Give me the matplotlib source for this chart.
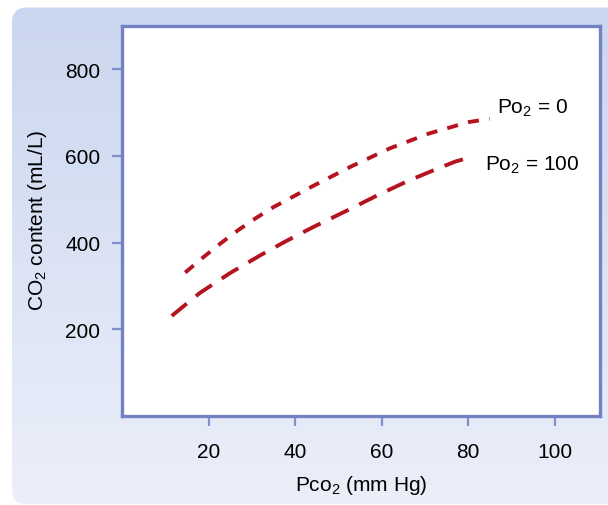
import numpy as np
import matplotlib
matplotlib.use("Agg")
from matplotlib import pyplot as plt
from matplotlib.colors import LinearSegmentedColormap
from matplotlib.patches import FancyBboxPatch

# CO2 dissociation curves
pco2_o2_0 = [14.6, 19, 23, 27, 31, 35, 44, 53, 62, 71, 80, 85]
co2_o2_0 = [331, 368, 400, 430, 457, 482, 530, 576, 618, 652, 678, 686]

pco2_o2_100 = [11.5, 18, 25, 32, 38, 44, 52, 59, 66, 72, 77, 80.5]
co2_o2_100 = [231, 284, 330, 371, 404, 435, 474, 509, 542, 567, 587, 597]

x_ticks = [20, 40, 60, 80, 100]
y_ticks = [200, 400, 600, 800]

FRAME = '#7282c4'
RED = '#b5141e'
FS = 15

plt.rcParams['font.family'] = ['Liberation Sans', 'DejaVu Sans']
plt.rcParams['mathtext.fontset'] = 'custom'
plt.rcParams['mathtext.rm'] = 'Liberation Sans'
plt.rcParams['lines.scale_dashes'] = False

W, H = 608, 506
fig = plt.figure(figsize=(W / 100, H / 100), dpi=100)

# rounded panel with a soft blue gradient behind everything
bg = fig.add_axes([0, 0, 1, 1], zorder=-1)
bg.set_xlim(0, W)
bg.set_ylim(H, 0)
bg.axis('off')
cmap = LinearSegmentedColormap.from_list('panel', ['#cad6ef', '#ebeff9'])
im = bg.imshow(np.linspace(0, 1, 256)[:, None], cmap=cmap, extent=[0, W, H, 0], aspect='auto')
panel = FancyBboxPatch((12, 8.5), 640, 496.5, boxstyle='round,pad=0,rounding_size=15',
                       transform=bg.transData, fc='none', ec='none')
bg.add_patch(panel)
im.set_clip_path(panel)

left, right, top, bottom = 122, 600, 27, 417
ax = fig.add_axes([left / W, 1 - bottom / H, (right - left) / W, (bottom - top) / H])
ax.set_facecolor('white')

ax.plot(pco2_o2_0, co2_o2_0, color=RED, lw=2.8, dashes=(8, 7.5), solid_capstyle='butt')
ax.plot(pco2_o2_100, co2_o2_100, color=RED, lw=2.8, dashes=(14, 8.5), solid_capstyle='butt')

ax.text(86.7, 701, r'P$\mathregular{o_2}$ = 0', fontsize=FS, ha='left', va='baseline')
ax.text(84.0, 569, r'P$\mathregular{o_2}$ = 100', fontsize=FS, ha='left', va='baseline')

ax.set_xlim(0, 110.5)
ax.set_ylim(0, 900)
ax.set_xticks(x_ticks)
ax.set_yticks(y_ticks)
ax.tick_params(axis='both', direction='out', length=7, width=1.6, color='#8090cc',
               labelsize=FS, labelcolor='black')
ax.tick_params(axis='x', pad=11.5)
ax.tick_params(axis='y', pad=8.5)
for side in ax.spines.values():
    side.set_color(FRAME)
    side.set_linewidth(2.4)

fig.text(361 / W, 1 - 491 / H, r'P$\mathregular{co_2}$ (mm Hg)', fontsize=FS,
         ha='center', va='baseline')
fig.text(37.5 / W, 1 - 220.5 / H, r'CO$\mathregular{_2}$ content (mL/L)', fontsize=FS,
         ha='center', va='center', rotation=90)

fig.savefig('out.png', dpi=100)
